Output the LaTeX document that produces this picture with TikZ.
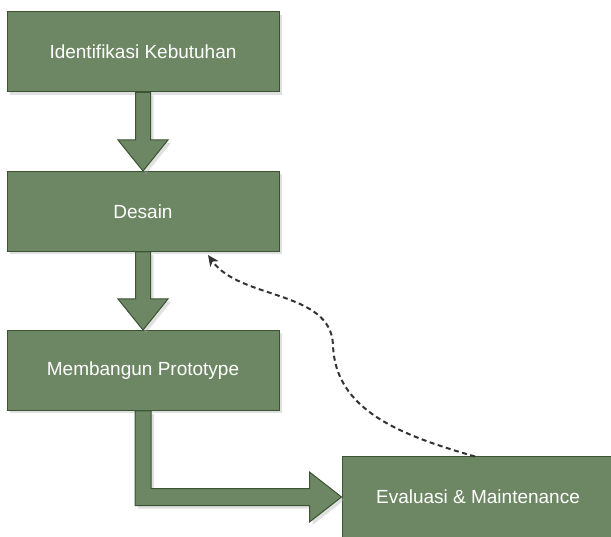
\documentclass[tikz,border=0pt]{standalone}
\usepackage{fontspec}
\setmainfont{Liberation Sans}
\usetikzlibrary{arrows.meta,calc,shadows}
\definecolor{boxfill}{HTML}{6D8764}
\definecolor{boxline}{HTML}{3A5431}
\definecolor{linkgray}{HTML}{333333}

\begin{document}
\begin{tikzpicture}[x=1pt,y=-1pt,
  stage/.style={draw=boxline,fill=boxfill,line width=1pt,minimum width=272pt,minimum height=80pt,
    inner sep=0pt,text=white,font=\fontsize{19}{22}\selectfont,
    drop shadow={shadow xshift=3pt,shadow yshift=-3pt,fill=black!35,opacity=.35}},
  fat/.style={draw=boxline,fill=boxfill,line width=1pt,line join=miter,
    drop shadow={shadow xshift=3pt,shadow yshift=-3pt,fill=black!35,opacity=.35}},
  link/.style={linkgray,line width=2pt,dash pattern=on 5pt off 3.5pt,-{Stealth[length=11pt,width=10pt,inset=3pt]}}]
  \useasboundingbox (0,0) rectangle (611,537);
  \node[stage] (ident) at (143,52) {Identifikasi Kebutuhan};
  \node[stage] (desain) at (143,211.5) {Desain};
  \node[stage] (proto) at (143,370.5) {Membangun Prototype};
  \node[stage] (eval) at (478,497) {Evaluasi \& Maintenance};
  % block arrows between the stages
  \foreach \a/\b in {ident/desain,desain/proto}
    \draw[fat] ($(\a.south)+(-7.5,0)$) -- ($(\b.north)+(-7.5,-31)$) -- ($(\b.north)+(-25,-31)$)
      -- (\b.north) -- ($(\b.north)+(25,-31)$) -- ($(\b.north)+(7.5,-31)$) -- ($(\a.south)+(7.5,0)$) -- cycle;
  \draw[fat] ($(proto.south)+(-8,0)$) -- ($(proto.south |- eval.west)+(-8,8.5)$) -- ($(eval.west)+(-32,8.5)$)
    -- ($(eval.west)+(-32,25)$) -- (eval.west) -- ($(eval.west)+(-32,-25)$) -- ($(eval.west)+(-32,-8.5)$)
    -- ($(proto.south |- eval.west)+(8,-8.5)$) -- ($(proto.south)+(8,0)$) -- cycle;
  % feedback
  \draw[link] ($(eval.north)+(-3,0)$) .. controls (400,435) and (335,410) .. (333,345)
    .. controls (331,290) and (240,300) .. ($(desain.south)+(65,3)$);
\end{tikzpicture}
\end{document}
